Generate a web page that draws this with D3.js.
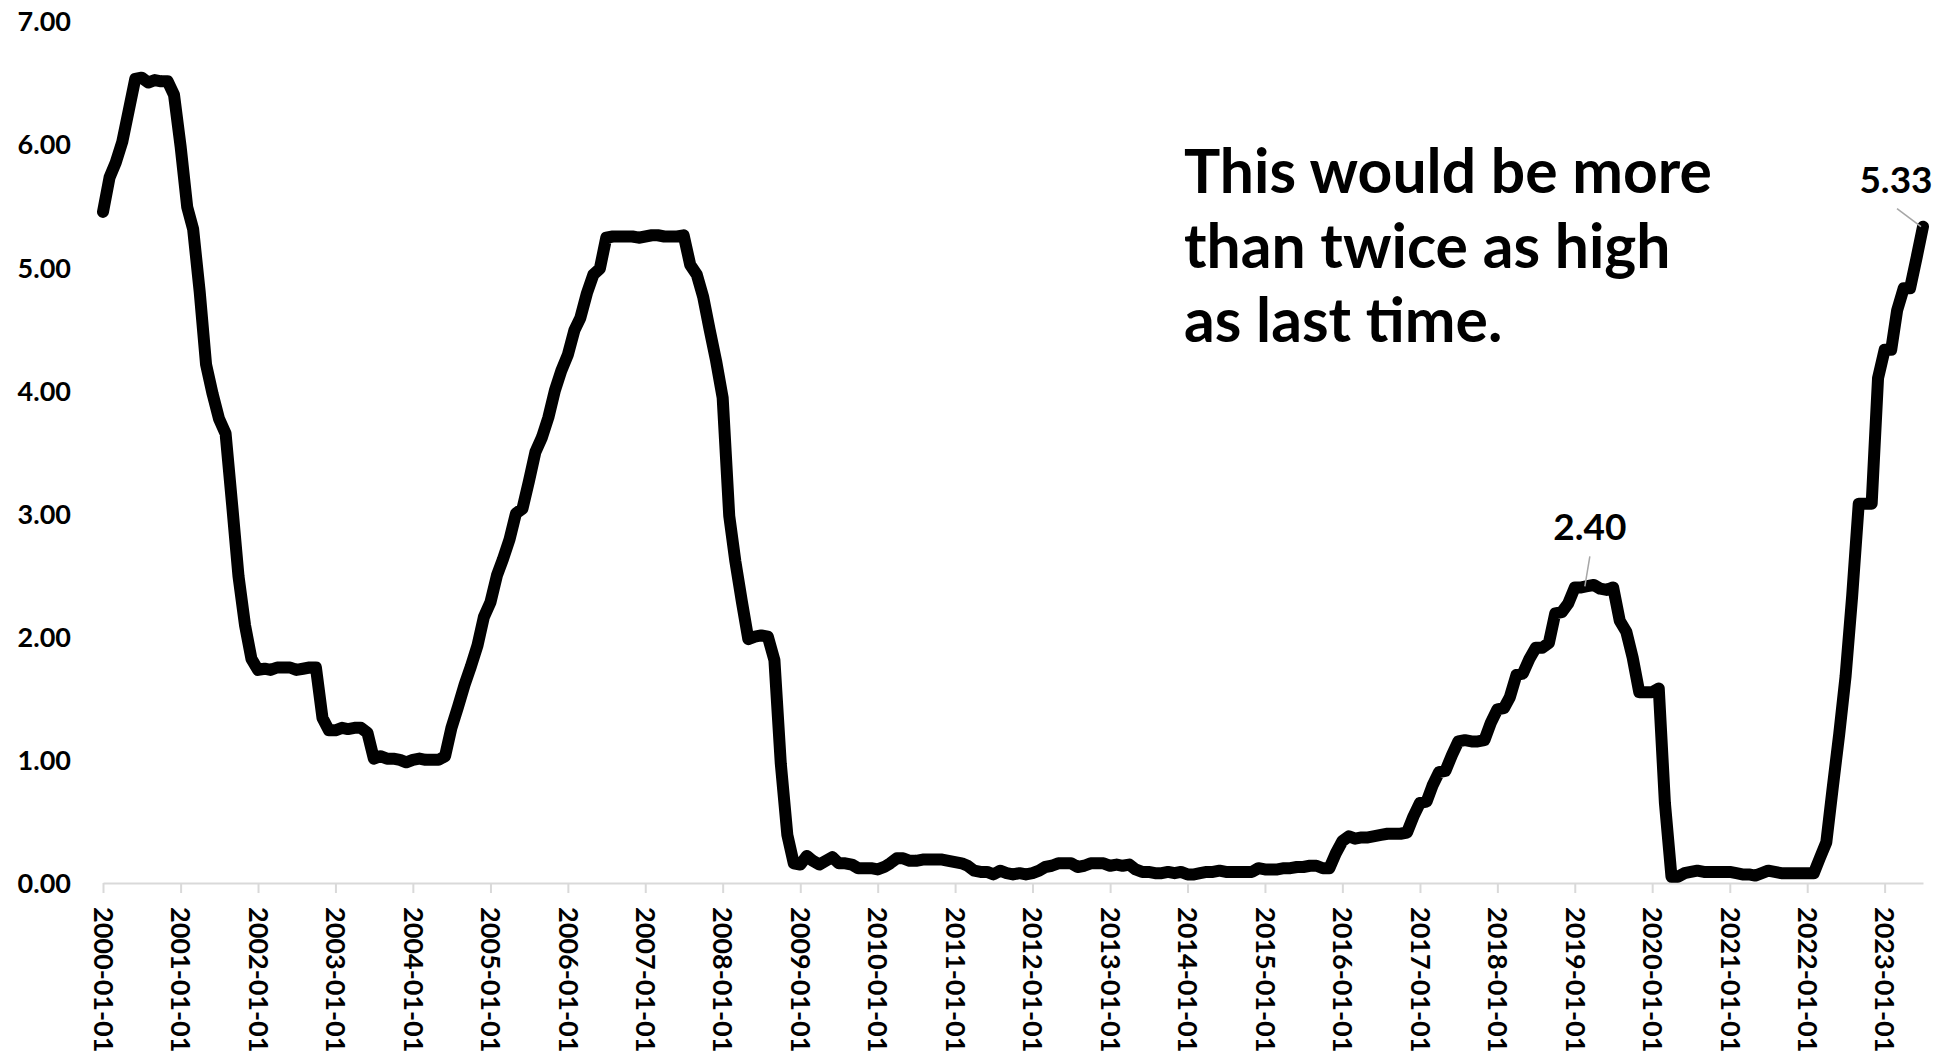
<!DOCTYPE html>
<html>
<head>
<meta charset="utf-8">
<script src="https://cdn.jsdelivr.net/npm/d3@7"></script>
<style>
  html, body { margin: 0; padding: 0; background: #fff; }
  svg { display: block; }
  text { font-family: Lato, "Open Sans", sans-serif; font-weight: 700; fill: #000; }
</style>
</head>
<body>
<svg id="chart" width="1946" height="1057"></svg>
<script>
// Effective federal funds rate, monthly, percent
const firstMonth = "2000-01-01";
const fedFundsRate = [
  5.45, 5.73, 5.85, 6.02, 6.27, 6.53, 6.54, 6.50, 6.52, 6.51, 6.51, 6.40, // 2000
  5.98, 5.49, 5.31, 4.80, 4.21, 3.97, 3.77, 3.65, 3.07, 2.49, 2.09, 1.82, // 2001
  1.73, 1.74, 1.73, 1.75, 1.75, 1.75, 1.73, 1.74, 1.75, 1.75, 1.34, 1.24, // 2002
  1.24, 1.26, 1.25, 1.26, 1.26, 1.22, 1.01, 1.03, 1.01, 1.01, 1.00, 0.98, // 2003
  1.00, 1.01, 1.00, 1.00, 1.00, 1.03, 1.26, 1.43, 1.61, 1.76, 1.93, 2.16, // 2004
  2.28, 2.50, 2.63, 2.79, 3.00, 3.04, 3.26, 3.50, 3.62, 3.78, 4.00, 4.16, // 2005
  4.29, 4.49, 4.59, 4.79, 4.94, 4.99, 5.24, 5.25, 5.25, 5.25, 5.25, 5.24, // 2006
  5.25, 5.26, 5.26, 5.25, 5.25, 5.25, 5.26, 5.02, 4.94, 4.76, 4.49, 4.24, // 2007
  3.94, 2.98, 2.61, 2.28, 1.98, 2.00, 2.01, 2.00, 1.81, 0.97, 0.39, 0.16, // 2008
  0.15, 0.22, 0.18, 0.15, 0.18, 0.21, 0.16, 0.16, 0.15, 0.12, 0.12, 0.12, // 2009
  0.11, 0.13, 0.16, 0.20, 0.20, 0.18, 0.18, 0.19, 0.19, 0.19, 0.19, 0.18, // 2010
  0.17, 0.16, 0.14, 0.10, 0.09, 0.09, 0.07, 0.10, 0.08, 0.07, 0.08, 0.07, // 2011
  0.08, 0.10, 0.13, 0.14, 0.16, 0.16, 0.16, 0.13, 0.14, 0.16, 0.16, 0.16, // 2012
  0.14, 0.15, 0.14, 0.15, 0.11, 0.09, 0.09, 0.08, 0.08, 0.09, 0.08, 0.09, // 2013
  0.07, 0.07, 0.08, 0.09, 0.09, 0.10, 0.09, 0.09, 0.09, 0.09, 0.09, 0.12, // 2014
  0.11, 0.11, 0.11, 0.12, 0.12, 0.13, 0.13, 0.14, 0.14, 0.12, 0.12, 0.24, // 2015
  0.34, 0.38, 0.36, 0.37, 0.37, 0.38, 0.39, 0.40, 0.40, 0.40, 0.41, 0.54, // 2016
  0.65, 0.66, 0.79, 0.90, 0.91, 1.04, 1.15, 1.16, 1.15, 1.15, 1.16, 1.30, // 2017
  1.41, 1.42, 1.51, 1.69, 1.70, 1.82, 1.91, 1.91, 1.95, 2.19, 2.20, 2.27, // 2018
  2.40, 2.40, 2.41, 2.42, 2.39, 2.38, 2.40, 2.13, 2.04, 1.83, 1.55, 1.55, // 2019
  1.55, 1.58, 0.65, 0.05, 0.05, 0.08, 0.09, 0.10, 0.09, 0.09, 0.09, 0.09, // 2020
  0.09, 0.08, 0.07, 0.07, 0.06, 0.08, 0.10, 0.09, 0.08, 0.08, 0.08, 0.08, // 2021
  0.08, 0.08, 0.20, 0.33, 0.77, 1.21, 1.68, 2.33, 3.08, 3.08, 3.08, 4.10, // 2022
  4.33, 4.33, 4.65, 4.83, 4.83, 5.08, 5.33                                // 2023
];

const yTicks = [0, 1, 2, 3, 4, 5, 6, 7];
const yearTicks = [
  "2000-01-01", "2001-01-01", "2002-01-01", "2003-01-01", "2004-01-01", "2005-01-01",
  "2006-01-01", "2007-01-01", "2008-01-01", "2009-01-01", "2010-01-01", "2011-01-01",
  "2012-01-01", "2013-01-01", "2014-01-01", "2015-01-01", "2016-01-01", "2017-01-01",
  "2018-01-01", "2019-01-01", "2020-01-01", "2021-01-01", "2022-01-01", "2023-01-01"
];
const labelledMonths = ["2019-02-01", "2023-07-01"];
const noteLines = ["This would be more", "than twice as high", "as last time."];

// ---- layout ----
const plot = { left: 103, right: 1923, top: 21, bottom: 883 };
const parse = d3.utcParse("%Y-%m-%d");
const fmtDate = d3.utcFormat("%Y-%m-%d");
const fmtRate = d3.format(".2f");

const start = parse(firstMonth);
const series = fedFundsRate.map((v, i) => ({ date: d3.utcMonth.offset(start, i), value: v }));

const x = d3.scaleUtc()
  .domain([series[0].date, series[series.length - 1].date])
  .range([plot.left, plot.right]);
const y = d3.scaleLinear().domain([0, 7]).range([plot.bottom, plot.top]);

const svg = d3.select("#chart");

// x axis: light grey baseline with yearly ticks, labels rotated to read downward
const xAxis = svg.append("g")
  .attr("transform", `translate(0,${plot.bottom})`)
  .call(d3.axisBottom(x)
    .tickValues(yearTicks.map(parse))
    .tickFormat(fmtDate)
    .tickSize(10)
    .tickSizeOuter(0));
xAxis.select(".domain").attr("stroke", "#d9d9d9").attr("stroke-width", 2);
xAxis.selectAll(".tick line").attr("stroke", "#d9d9d9").attr("stroke-width", 2);
xAxis.selectAll(".tick text")
  .attr("transform", "rotate(90)")
  .attr("x", 24)
  .attr("y", 0)
  .attr("dy", "0.36em")
  .attr("text-anchor", "start")
  .style("font-size", "27px")
  .style("font-family", "Lato, 'Open Sans', sans-serif")
  .style("font-weight", 700)
  .attr("fill", "#000");

// y axis: labels only
const yAxis = svg.append("g")
  .attr("transform", `translate(${plot.left},0)`)
  .call(d3.axisLeft(y).tickValues(yTicks).tickFormat(fmtRate).tickSize(0).tickPadding(32));
yAxis.select(".domain").remove();
yAxis.selectAll(".tick text")
  .attr("dy", "0.36em")
  .style("font-size", "27px")
  .style("font-family", "Lato, 'Open Sans', sans-serif")
  .style("font-weight", 700)
  .attr("fill", "#000");

// rate line
const line = d3.line().x(d => x(d.date)).y(d => y(d.value));
svg.append("path")
  .datum(series)
  .attr("d", line)
  .attr("fill", "none")
  .attr("stroke", "#000")
  .attr("stroke-width", 12)
  .attr("stroke-linejoin", "round")
  .attr("stroke-linecap", "round");

// value callouts with leader lines
const calloutPlacement = {
  "2019-02-01": { lx: 8.5, ly: -47, from: [8.5, -31], to: [3.5, -1] },
  "2023-07-01": { lx: -27, ly: -34, from: [-26, -18], to: [-2, 0] }
};
labelledMonths.forEach(m => {
  const pt = series.find(d => fmtDate(d.date) === m);
  const px = x(pt.date), py = y(pt.value);
  const p = calloutPlacement[m];
  svg.append("line")
    .attr("x1", px + p.from[0]).attr("y1", py + p.from[1])
    .attr("x2", px + p.to[0]).attr("y2", py + p.to[1])
    .attr("stroke", "#a6a6a6").attr("stroke-width", 1.5);
  svg.append("text")
    .attr("x", px + p.lx).attr("y", py + p.ly)
    .attr("text-anchor", "middle")
    .style("font-size", "37px")
    .text(fmtRate(pt.value));
});

// annotation
const note = svg.append("g").attr("transform", "translate(1184,0)");
const noteText = note.selectAll("text")
  .data(noteLines)
  .join("text")
  .attr("x", 0)
  .attr("y", (d, i) => 193 + i * 74.5)
  .style("font-size", "60px")
  .text(d => d);
const w0 = noteText.nodes()[0].getComputedTextLength();
noteText.style("font-size", (60 * 528 / w0) + "px");
</script>
</body>
</html>
